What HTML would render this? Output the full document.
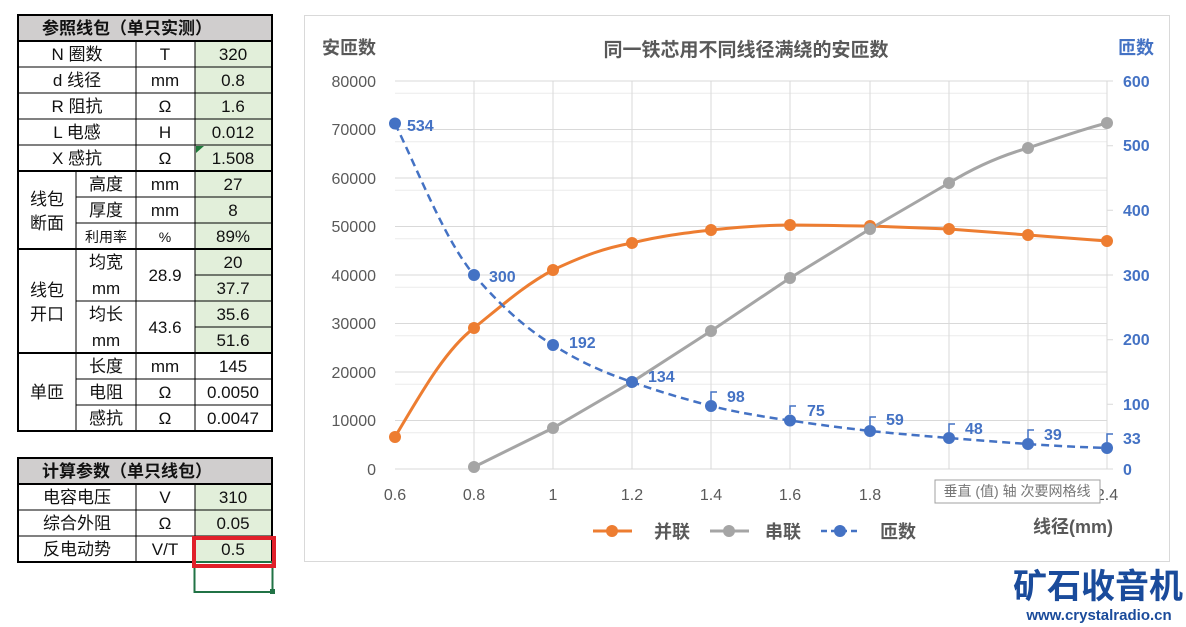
<!DOCTYPE html><html><head><meta charset="utf-8"><style>body{margin:0;background:#fff}svg{display:block;font-family:"Liberation Sans","Noto Sans CJK SC",sans-serif}</style></head><body>
<svg width="1186" height="627" viewBox="0 0 1186 627" xmlns="http://www.w3.org/2000/svg">
<g font-size="17" fill="#111" text-anchor="middle">
<!-- table 1 -->
<rect x="18" y="15" width="254" height="26" fill="#d0cece"/>
<rect x="195" y="41" width="77" height="208" fill="#e2efda"/>
<rect x="195" y="249" width="77" height="104" fill="#e2efda"/>
<g stroke="#000" stroke-width="1" fill="none">
<path d="M18 67H272M18 93H272M18 119H272M18 145H272M76 197H272M76 223H272M195 275H272M76 301H272M195 327H272M76 379H272M76 405H272"/>
<path d="M76 171V431M136 41V431M195 41V431"/>
</g>
<g stroke="#000" stroke-width="2" fill="none">
<rect x="18" y="15" width="254" height="416"/>
<path d="M18 41H272M18 171H272M18 249H272M18 353H272"/>
</g>
<path d="M196 146l8 0l-8 7z" fill="#1e7a3a"/>
<text x="127" y="34" font-weight="bold">参照线包（单只实测）</text>
<text x="77" y="60">N 圈数</text><text x="165" y="60">T</text><text x="233" y="60">320</text>
<text x="77" y="86">d 线径</text><text x="165" y="86">mm</text><text x="233" y="86">0.8</text>
<text x="77" y="112">R 阻抗</text><text x="165" y="112">Ω</text><text x="233" y="112">1.6</text>
<text x="77" y="138">L 电感</text><text x="165" y="138">H</text><text x="233" y="138">0.012</text>
<text x="77" y="164">X 感抗</text><text x="165" y="164">Ω</text><text x="233" y="164">1.508</text>
<text x="47" y="205">线包</text><text x="47" y="229">断面</text>
<text x="106" y="190">高度</text><text x="165" y="190">mm</text><text x="233" y="190">27</text>
<text x="106" y="216">厚度</text><text x="165" y="216">mm</text><text x="233" y="216">8</text>
<text x="106" y="242" font-size="14">利用率</text><text x="165" y="242" font-size="14">%</text><text x="233" y="242">89%</text>
<text x="47" y="296">线包</text><text x="47" y="320">开口</text>
<text x="106" y="268">均宽</text><text x="106" y="294">mm</text><text x="165" y="281">28.9</text><text x="233" y="268">20</text><text x="233" y="294">37.7</text>
<text x="106" y="320">均长</text><text x="106" y="346">mm</text><text x="165" y="333">43.6</text><text x="233" y="320">35.6</text><text x="233" y="346">51.6</text>
<text x="47" y="398">单匝</text>
<text x="106" y="372">长度</text><text x="165" y="372">mm</text><text x="233" y="372">145</text>
<text x="106" y="398">电阻</text><text x="165" y="398">Ω</text><text x="233" y="398">0.0050</text>
<text x="106" y="424">感抗</text><text x="165" y="424">Ω</text><text x="233" y="424">0.0047</text>
<!-- table 2 -->
<rect x="18" y="458" width="254" height="26" fill="#d0cece"/>
<rect x="195" y="484" width="77" height="78" fill="#e2efda"/>
<g stroke="#000" stroke-width="1" fill="none"><path d="M18 510H272M18 536H272M136 484V562M195 484V562"/></g>
<g stroke="#000" stroke-width="2" fill="none"><rect x="18" y="458" width="254" height="104"/><path d="M18 484H272"/></g>
<text x="127" y="477" font-weight="bold">计算参数（单只线包）</text>
<text x="77" y="503">电容电压</text><text x="165" y="503">V</text><text x="233" y="503">310</text>
<text x="77" y="529">综合外阻</text><text x="165" y="529">Ω</text><text x="233" y="529">0.05</text>
<text x="77" y="555">反电动势</text><text x="165" y="555">V/T</text><text x="233" y="555">0.5</text>
<rect x="194.5" y="562" width="78" height="30" fill="none" stroke="#217346" stroke-width="2"/>
<rect x="270" y="589" width="5" height="5" fill="#217346"/>
<rect x="194" y="538" width="80" height="28" fill="none" stroke="#e0202a" stroke-width="4"/>
</g>
<!-- chart -->
<rect x="304.5" y="15.5" width="865" height="546" fill="#fff" stroke="#d9d9d9"/>
<g stroke="#ececec" stroke-width="1">
<path d="M395 93.3H1107M395 141.8H1107M395 190.3H1107M395 238.8H1107M395 287.3H1107M395 335.8H1107M395 384.3H1107M395 432.8H1107"/>
</g>
<g stroke="#d9d9d9" stroke-width="1">
<path d="M395 81H1107M395 129.5H1107M395 178H1107M395 226.5H1107M395 275H1107M395 323.5H1107M395 372H1107M395 420.5H1107M395 469H1107"/>
<path d="M474 81V469M553 81V469M632 81V469M711 81V469M790 81V469M870 81V469M949 81V469M1028 81V469M1107 81V469"/>
<path d="M1107 81h6M1107 145.7h6M1107 210.3h6M1107 275h6M1107 339.7h6M1107 404.3h6M1107 469h6"/>
</g>
<g font-size="16" fill="#595959" text-anchor="end">
<text x="376" y="87">80000</text><text x="376" y="135">70000</text><text x="376" y="184">60000</text><text x="376" y="232">50000</text><text x="376" y="281">40000</text><text x="376" y="329">30000</text><text x="376" y="378">20000</text><text x="376" y="426">10000</text><text x="376" y="475">0</text>
</g>
<g font-size="16" fill="#4472c4" font-weight="bold">
<text x="1123" y="87">600</text><text x="1123" y="151">500</text><text x="1123" y="216">400</text><text x="1123" y="281">300</text><text x="1123" y="345">200</text><text x="1123" y="410">100</text><text x="1123" y="444">33</text><text x="1123" y="475">0</text>
</g>
<g font-size="16" fill="#595959" text-anchor="middle">
<text x="395" y="500">0.6</text><text x="474" y="500">0.8</text><text x="553" y="500">1</text><text x="632" y="500">1.2</text><text x="711" y="500">1.4</text><text x="790" y="500">1.6</text><text x="870" y="500">1.8</text><text x="949" y="500">2</text><text x="1028" y="500">2.2</text><text x="1107" y="500">2.4</text>
</g>
<text x="322" y="54" font-size="18" font-weight="bold" fill="#595959">安匝数</text>
<text x="1118" y="54" font-size="18" font-weight="bold" fill="#4472c4">匝数</text>
<text x="746" y="56" font-size="19" font-weight="bold" fill="#595959" text-anchor="middle">同一铁芯用不同线径满绕的安匝数</text>
<!-- series -->
<path d="M395 437C420 395 445 350 474 328C505 303 525 285 553 270C585 255 605 248 632 243C660 236 685 233 711 230C740 227 765 225 790 225C820 225 845 226 870 226C900 227 925 228 949 229C975 231 1000 233 1028 235C1055 237 1080 239 1107 241" fill="none" stroke="#ed7d31" stroke-width="3"/>
<path d="M474 467L553 428L632 382L711 331L790 278L870 229L949 183C975 167 1000 156 1028 148C1055 139 1080 130 1107 123" fill="none" stroke="#a5a5a5" stroke-width="3"/>
<path d="M395 123.5C420 175 445 240 474 275C500 305 525 328 553 345C580 362 605 373 632 382C660 392 685 399 711 406C740 413 765 417 790 420.5C820 425 845 428 870 431C900 434 925 436 949 438C975 440 1000 442 1028 444C1055 446 1080 447 1107 448" fill="none" stroke="#4472c4" stroke-width="2.5" stroke-dasharray="8,5"/>
<g fill="#ed7d31"><circle cx="395" cy="437" r="6"/><circle cx="474" cy="328" r="6"/><circle cx="553" cy="270" r="6"/><circle cx="632" cy="243" r="6"/><circle cx="711" cy="230" r="6"/><circle cx="790" cy="225" r="6"/><circle cx="870" cy="226" r="6"/><circle cx="949" cy="229" r="6"/><circle cx="1028" cy="235" r="6"/><circle cx="1107" cy="241" r="6"/></g>
<g fill="#a5a5a5"><circle cx="474" cy="467" r="6"/><circle cx="553" cy="428" r="6"/><circle cx="632" cy="382" r="6"/><circle cx="711" cy="331" r="6"/><circle cx="790" cy="278" r="6"/><circle cx="870" cy="229" r="6"/><circle cx="949" cy="183" r="6"/><circle cx="1028" cy="148" r="6"/><circle cx="1107" cy="123" r="6"/></g>
<g fill="#4472c4"><circle cx="395" cy="123.5" r="6"/><circle cx="474" cy="275" r="6"/><circle cx="553" cy="345" r="6"/><circle cx="632" cy="382" r="6"/><circle cx="711" cy="406" r="6"/><circle cx="790" cy="420.5" r="6"/><circle cx="870" cy="431" r="6"/><circle cx="949" cy="438" r="6"/><circle cx="1028" cy="444" r="6"/><circle cx="1107" cy="448" r="6"/></g>
<g stroke="#4472c4" stroke-width="1.5" fill="none"><path d="M711 400V392h6M790 414V406h6M870 425V417h6M949 432V424h6M1028 438V430h6M1107 442V434h6"/></g>
<g font-size="16" font-weight="bold" fill="#4472c4">
<text x="407" y="131">534</text><text x="489" y="282">300</text><text x="569" y="348">192</text><text x="648" y="382">134</text><text x="727" y="402">98</text><text x="807" y="416">75</text><text x="886" y="425">59</text><text x="965" y="434">48</text><text x="1044" y="440">39</text>
</g>
<rect x="935" y="480" width="165" height="23" fill="#fff" stroke="#a0a0a0"/>
<text x="1017" y="496" font-size="14" fill="#777" text-anchor="middle">垂直 (值) 轴 次要网格线</text>
<!-- legend -->
<path d="M593 531H632" stroke="#ed7d31" stroke-width="3"/><circle cx="612" cy="531" r="6" fill="#ed7d31"/>
<text x="654" y="538" font-size="18" font-weight="bold" fill="#595959">并联</text>
<path d="M710 531H749" stroke="#a5a5a5" stroke-width="3"/><circle cx="729" cy="531" r="6" fill="#a5a5a5"/>
<text x="765" y="538" font-size="18" font-weight="bold" fill="#595959">串联</text>
<path d="M821 531H860" stroke="#4472c4" stroke-width="2.5" stroke-dasharray="6,4"/><circle cx="840" cy="531" r="6" fill="#4472c4"/>
<text x="880" y="538" font-size="18" font-weight="bold" fill="#595959">匝数</text>
<text x="1033" y="533" font-size="18" font-weight="bold" fill="#595959">线径(mm)</text>
<!-- watermark -->
<text x="1098" y="598" font-size="34" font-weight="bold" fill="#1a4b9b" text-anchor="middle">矿石收音机</text>
<text x="1099" y="620" font-size="15" font-weight="bold" fill="#1a4b9b" text-anchor="middle">www.crystalradio.cn</text>
</svg>
</body></html>
